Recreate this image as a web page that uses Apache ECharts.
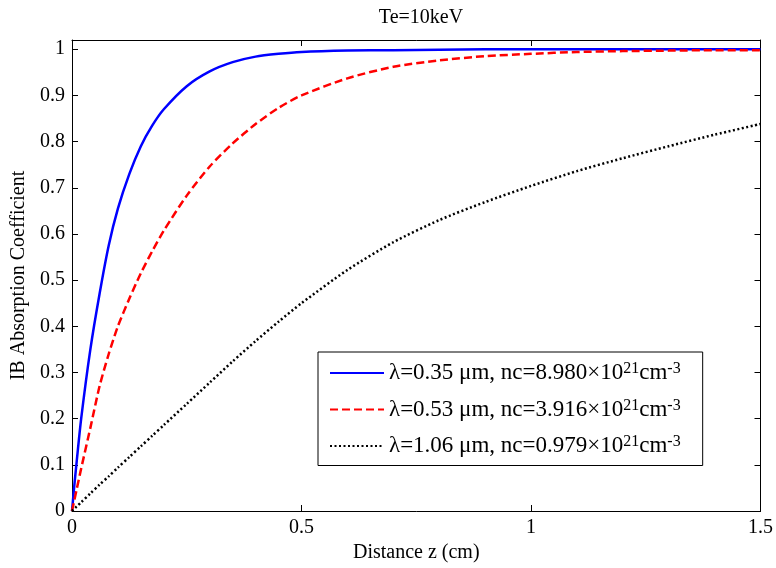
<!DOCTYPE html>
<html>
<head>
<meta charset="utf-8">
<script src="https://cdn.jsdelivr.net/npm/echarts@6/dist/echarts.min.js"></script>
<style>html,body{margin:0;padding:0;background:#fff}#c{width:776px;height:568px}</style>
</head>
<body>
<div id="c"></div>
<script>
var zValues = [0, 0.005, 0.01, 0.02, 0.04, 0.06, 0.08, 0.1, 0.125, 0.15, 0.175, 0.2, 0.25, 0.3, 0.35, 0.4, 0.45, 0.5, 0.6, 0.7, 0.8, 0.9, 1.0, 1.1, 1.2, 1.3, 1.4, 1.5];
var blueValues = [0, 0.055, 0.105, 0.20, 0.35, 0.47, 0.575, 0.655, 0.73, 0.79, 0.835, 0.87, 0.92, 0.952, 0.972, 0.984, 0.990, 0.994, 0.997, 0.998, 0.999, 1.0, 1.0, 1.0, 1.0, 1.0, 1.0, 1.0];
var redValues = [0, 0.023, 0.046, 0.092, 0.18, 0.27, 0.34, 0.40, 0.46, 0.515, 0.563, 0.607, 0.683, 0.746, 0.796, 0.838, 0.873, 0.90, 0.937, 0.962, 0.976, 0.985, 0.99, 0.994, 0.996, 0.997, 0.998, 0.998];
var blackValues = [0, 0.005, 0.0095, 0.019, 0.038, 0.057, 0.075, 0.094, 0.117, 0.14, 0.163, 0.186, 0.232, 0.278, 0.324, 0.368, 0.41, 0.45, 0.522, 0.582, 0.63, 0.669, 0.704, 0.736, 0.764, 0.79, 0.815, 0.838];
var wavelengths = ['0.35', '0.53', '1.06'];
var ncValues = ['8.980', '3.916', '0.979'];
var xTicks = [0, 0.5, 1, 1.5];
var yTicks = [0, 0.1, 0.2, 0.3, 0.4, 0.5, 0.6, 0.7, 0.8, 0.9, 1];
var titleText = 'Te=10keV';
var xName = 'Distance z (cm)';
var yName = 'IB Absorption Coefficient';

var FONT = 'Liberation Serif, Times New Roman, serif';
function zip(vals) { return zValues.map(function (z, i) { return [z, vals[i]]; }); }
var names = wavelengths.map(function (w, i) { return 'λ=' + w + ' μm, nc=' + ncValues[i] + '×10^21cm^-3'; });
var richNames = {};
wavelengths.forEach(function (w, i) {
  richNames[names[i]] = '{t|λ=' + w + ' μm, nc=' + ncValues[i] + '×10}{s|21}{t|cm}{s|-3}';
});

var chart = echarts.init(document.getElementById('c'), null, { renderer: 'canvas' });
var axisLineStyle = { color: '#000', width: 1 };
chart.setOption({
  animation: false,
  backgroundColor: '#fff',
  title: {
    text: titleText, left: 416, top: 3, textAlign: 'center',
    textStyle: { fontFamily: FONT, fontSize: 20, fontWeight: 'normal', color: '#000' }
  },
  grid: { left: 72, right: 15, top: 40, bottom: 57, containLabel: false },
  legend: {
    orient: 'vertical', left: 318, top: 352,
    padding: [9, 22, 8, 11], itemGap: 13, itemWidth: 54, itemHeight: 14,
    backgroundColor: '#fff', borderColor: '#000', borderWidth: 1, borderRadius: 0,
    data: names,
    itemStyle: { opacity: 0 },
    formatter: function (n) { return richNames[n]; },
    textStyle: {
      fontFamily: FONT, color: '#000',
      rich: {
        t: { fontFamily: FONT, fontSize: 23, lineHeight: 24, color: '#000' },
        s: { fontFamily: FONT, fontSize: 16, lineHeight: 6, verticalAlign: 'top', color: '#000' }
      }
    }
  },
  xAxis: [{
    type: 'value', min: 0, max: 1.5, interval: 0.5, position: 'bottom',
    axisLine: { show: true, lineStyle: axisLineStyle },
    axisTick: { show: true, inside: true, length: 6, lineStyle: axisLineStyle, customValues: xTicks },
    axisLabel: { fontFamily: FONT, fontSize: 20, color: '#000', margin: 7, customValues: xTicks },
    splitLine: { show: false },
    name: xName, nameLocation: 'middle', nameGap: 23,
    nameTextStyle: { fontFamily: FONT, fontSize: 20, color: '#000' }
  }, {
    type: 'value', min: 0, max: 1.5, interval: 0.5, position: 'top',
    axisLine: { show: true, onZero: false, lineStyle: axisLineStyle },
    axisTick: { show: true, inside: true, length: 6, lineStyle: axisLineStyle, customValues: xTicks },
    axisLabel: { show: false },
    splitLine: { show: false }
  }],
  yAxis: [{
    type: 'value', min: 0, max: 1.02, position: 'left',
    axisLine: { show: true, lineStyle: axisLineStyle },
    axisTick: { show: true, inside: true, length: 6, lineStyle: axisLineStyle, customValues: yTicks },
    axisLabel: { fontFamily: FONT, fontSize: 20, color: '#000', margin: 7, customValues: yTicks },
    splitLine: { show: false },
    name: yName, nameLocation: 'middle', nameGap: 43,
    nameTextStyle: { fontFamily: FONT, fontSize: 20, color: '#000' }
  }, {
    type: 'value', min: 0, max: 1.02, position: 'right',
    axisLine: { show: true, onZero: false, lineStyle: axisLineStyle },
    axisTick: { show: true, inside: true, length: 6, lineStyle: axisLineStyle, customValues: yTicks },
    axisLabel: { show: false },
    splitLine: { show: false }
  }],
  series: [
    { name: names[0], type: 'line', data: zip(blueValues), smooth: 0.25, symbol: 'none', color: '#0000ff',
      lineStyle: { color: '#0000ff', width: 2.5, type: 'solid' } },
    { name: names[1], type: 'line', data: zip(redValues), smooth: 0.25, symbol: 'none', color: '#ff0000',
      lineStyle: { color: '#ff0000', width: 2.5, type: [8, 4] } },
    { name: names[2], type: 'line', data: zip(blackValues), smooth: 0.25, symbol: 'none', color: '#000',
      lineStyle: { color: '#000', width: 2.5, type: [2, 2.5] } }
  ]
});
</script>
</body>
</html>
